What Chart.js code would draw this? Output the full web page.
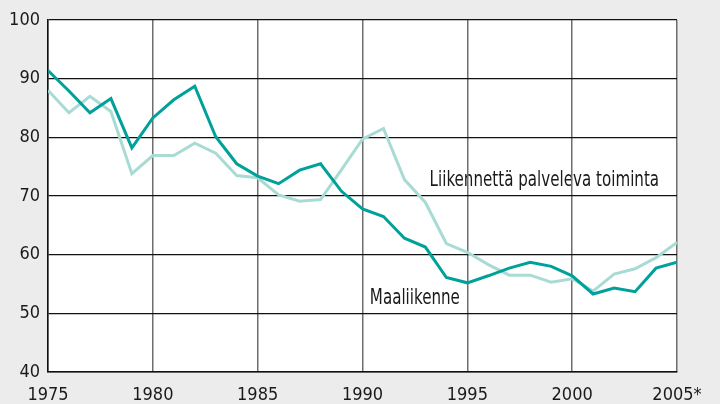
<!DOCTYPE html>
<html>
<head>
<meta charset="utf-8">
<script src="https://cdn.jsdelivr.net/npm/chart.js@4"></script>
<style>
  html, body { margin: 0; padding: 0; background: #ececec; }
  #wrap { width: 720px; height: 404px; }
</style>
</head>
<body>
<div id="wrap"><canvas id="myChart" width="720" height="404"></canvas></div>
<script>
// years on the x axis
var years = [1975, 1976, 1977, 1978, 1979, 1980, 1981, 1982, 1983, 1984,
             1985, 1986, 1987, 1988, 1989, 1990, 1991, 1992, 1993, 1994,
             1995, 1996, 1997, 1998, 1999, 2000, 2001, 2002, 2003, 2004, 2005];
// Maaliikenne (dark line)
var maaliikenne = [91.4, 87.9, 84.2, 86.6, 78.2, 83.3, 86.4, 88.7, 80.1, 75.5,
                   73.4, 72.1, 74.4, 75.5, 70.8, 67.8, 66.5, 62.8, 61.3, 56.1,
                   55.2, 56.4, 57.7, 58.7, 58.0, 56.4, 53.3, 54.3, 53.7, 57.7, 58.7];
// Liikennettä palveleva toiminta (light line)
var palveleva = [88.0, 84.2, 87.0, 84.4, 73.8, 76.9, 76.9, 79.0, 77.3, 73.5,
                 73.1, 70.2, 69.1, 69.4, 74.5, 79.7, 81.5, 72.8, 68.9, 61.9,
                 60.4, 58.3, 56.5, 56.5, 55.3, 55.9, 53.8, 56.7, 57.6, 59.5, 62.1];
var yTicks = [40, 50, 60, 70, 80, 90, 100];
var xTickLabels = {1975: '1975', 1980: '1980', 1985: '1985', 1990: '1990', 1995: '1995', 2000: '2000', 2005: '2005*'};
// in-chart labels: [text, year, value]
var seriesLabels = [
    ['Liikennettä palveleva toiminta', 1993.2, 72.6],
    ['Maaliikenne', 1990.35, 52.6]
];

const fontFamily = "'Liberation Sans Narrow', 'DejaVu Sans Condensed', 'Arial Narrow', sans-serif";
const darkColor = '#00a19a';
const lightColor = '#a9dbd5';

function toPoints(values) {
    let pts = [];
    for (let i = 0; i < years.length; i++) {
        pts.push({x: years[i], y: values[i]});
    }
    return pts;
}

// white plot area + labels drawn under the grid
const underGrid = {
    id: 'underGrid',
    beforeDraw(chart) {
        const ctx = chart.ctx;
        const a = chart.chartArea;
        ctx.save();
        ctx.fillStyle = '#ffffff';
        ctx.fillRect(a.left, a.top, a.right - a.left, a.bottom - a.top);
        ctx.fillStyle = '#1a1a1a';
        ctx.font = '21px ' + fontFamily;
        ctx.textAlign = 'left';
        ctx.textBaseline = 'middle';
        for (let i = 0; i < seriesLabels.length; i++) {
            let l = seriesLabels[i];
            let px = chart.scales.x.getPixelForValue(l[1]);
            let py = chart.scales.y.getPixelForValue(l[2]);
            ctx.save();
            ctx.translate(px, py);
            ctx.scale(0.8, 1); // condensed look
            ctx.fillText(l[0], 0, 0);
            ctx.restore();
        }
        ctx.restore();
    }
};

var config = {
    type: 'line',
    data: {
        datasets: [{
            label: 'Maaliikenne',
            data: toPoints(maaliikenne),
            borderColor: darkColor,
            borderWidth: 3,
            pointRadius: 0,
            tension: 0
        }, {
            label: 'Liikennettä palveleva toiminta',
            data: toPoints(palveleva),
            borderColor: lightColor,
            borderWidth: 3,
            pointRadius: 0,
            tension: 0
        }]
    },
    options: {
        responsive: false,
        animation: false,
        layout: {padding: {top: 20, right: 43, left: 0, bottom: 0}},
        plugins: {legend: {display: false}, tooltip: {enabled: false}},
        scales: {
            x: {
                type: 'linear',
                min: 1975,
                max: 2005,
                afterBuildTicks(scale) {
                    scale.ticks = Object.keys(xTickLabels).map(function (k) { return {value: +k}; });
                },
                afterFit(scale) { scale.height = 32; },
                grid: {color: '#6e6e6e', lineWidth: 1.5, drawTicks: false},
                border: {color: '#111111', width: 1.5},
                ticks: {
                    padding: 13,
                    color: '#1a1a1a',
                    font: {family: fontFamily, size: 18},
                    maxRotation: 0,
                    callback: function (v) { return xTickLabels[v]; }
                }
            },
            y: {
                min: 40,
                max: 100,
                afterBuildTicks(scale) {
                    scale.ticks = yTicks.map(function (v) { return {value: v}; });
                },
                afterFit(scale) { scale.width = 48; },
                grid: {color: '#111111', lineWidth: 1.2, drawTicks: false},
                border: {color: '#111111', width: 1.5},
                ticks: {
                    padding: 8,
                    color: '#1a1a1a',
                    font: {family: fontFamily, size: 18}
                }
            }
        }
    },
    plugins: [underGrid]
};

var myChart = new Chart(document.getElementById('myChart'), config);
</script>
</body>
</html>
